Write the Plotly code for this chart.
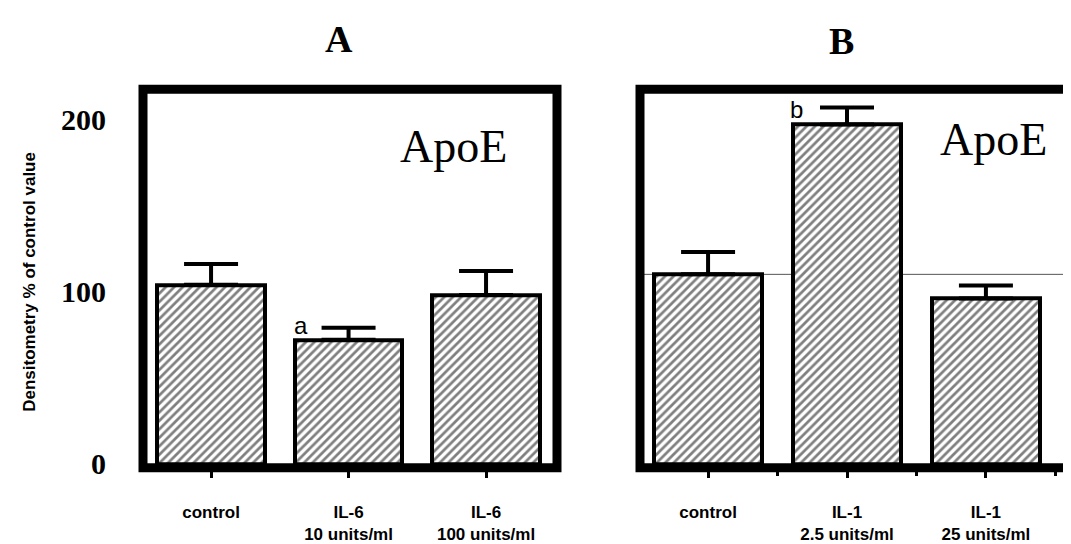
import plotly.graph_objects as go

W, H = 1071, 544

# ---- data ----
cats_a = ["control", "IL-6<br>10 units/ml", "IL-6<br>100 units/ml"]
vals_a = [104, 72, 98]
err_a = [12, 7, 14]

cats_b = ["control", "IL-1<br>2.5 units/ml", "IL-1<br>25 units/ml"]
vals_b = [110, 197, 96]
err_b = [13, 10, 7.5]

y_ticks = [0, 100, 200]
sig_a = "a"
sig_b = "b"

pos_a = list(range(len(cats_a)))
pos_b = list(range(len(cats_b)))

def px_x(p):
    return p / W

def px_y(p):
    return 1 - p / H

pattern = dict(shape="/", size=6, solidity=0.45, fgcolor="black", bgcolor="white", fillmode="overlay")

def bar(x, y, e, xa, ya):
    return go.Bar(
        x=x, y=y, xaxis=xa, yaxis=ya, width=0.78,
        marker=dict(color="white", line=dict(color="black", width=4), pattern=pattern),
        error_y=dict(type="data", array=e, arrayminus=[0] * len(e), symmetric=False,
                     color="black", thickness=4, width=27),
        showlegend=False, hoverinfo="skip",
    )

fig = go.Figure()
fig.add_trace(bar(pos_a, vals_a, err_a, "x", "y"))
fig.add_trace(bar(pos_b, vals_b, err_b, "x2", "y2"))

tickfont = dict(family="Liberation Sans, Arial", size=17, color="black", weight="bold")
ydom = [px_y(470), px_y(83)]
yrange = [-2.3, 217.6]

fig.update_layout(
    width=W, height=H, margin=dict(l=0, r=0, t=0, b=0),
    paper_bgcolor="white", plot_bgcolor="white",
    bargap=0,
    xaxis=dict(domain=[px_x(135), px_x(549)], range=[-0.495, 2.516],
               tickmode="array", tickvals=pos_a, ticktext=cats_a,
               ticks="outside", ticklen=9, tickwidth=3, tickcolor="black",
               ticklabelstandoff=20, tickfont=tickfont,
               showline=False, showgrid=False, zeroline=False, anchor="y"),
    yaxis=dict(domain=ydom, range=yrange, tickmode="array", tickvals=y_ticks,
               ticks="", ticklabelstandoff=36,
               tickfont=dict(family="Liberation Serif, Times New Roman", size=30, color="black", weight="bold"),
               showline=False, showgrid=False, zeroline=False, anchor="x"),
    xaxis2=dict(domain=[px_x(632), 1.0], range=[-0.49, 2.67],
                tickmode="array", tickvals=pos_b, ticktext=cats_b,
                ticks="outside", ticklen=9, tickwidth=3, tickcolor="black",
                minor=dict(tickvals=[0.5, 1.5, 2.5], ticks="outside", ticklen=7, tickwidth=3, tickcolor="black"),
                ticklabelstandoff=20, tickfont=tickfont,
                showline=False, showgrid=False, zeroline=False, anchor="y2"),
    yaxis2=dict(domain=ydom, range=yrange, showticklabels=False, ticks="",
                showline=False, showgrid=False, zeroline=False, anchor="x2"),
)

# thin reference line in panel B at control level
fig.add_shape(type="line", xref="x2 domain", yref="y2", x0=0, x1=1,
              y0=vals_b[0], y1=vals_b[0], line=dict(color="#555555", width=1), layer="below")

# thick frames
fig.add_shape(type="rect", xref="x domain", yref="y domain", x0=0, x1=1, y0=0, y1=1,
              line=dict(color="black", width=9), layer="above")
fig.add_shape(type="rect", xref="x2 domain", yref="y2 domain", x0=0, x1=1.2, y0=0, y1=1,
              line=dict(color="black", width=9), layer="above")

serif = "Liberation Serif, Times New Roman"
anns = [
    dict(text="A", x=px_x(331), y=px_y(32), font=dict(family=serif, size=38, color="black", weight="bold")),
    dict(text="B", x=px_x(833), y=px_y(34), font=dict(family=serif, size=38, color="black", weight="bold")),
    dict(text="ApoE", x=px_x(445), y=px_y(142), font=dict(family=serif, size=46, color="black")),
    dict(text="ApoE", x=px_x(985), y=px_y(134), font=dict(family=serif, size=46, color="black")),
    dict(text="Densitometry % of control value", x=px_x(22), y=px_y(280), textangle=-90,
         font=dict(family="Liberation Sans, Arial", size=17, color="black", weight="bold")),
]
for a in anns:
    fig.add_annotation(xref="paper", yref="paper", showarrow=False, xanchor="center", yanchor="middle", **a)

fig.add_annotation(xref="x", yref="y", x=0.655, y=vals_a[1] + err_a[1] + 1, text=sig_a, showarrow=False,
                   xanchor="center", yanchor="middle",
                   font=dict(family="Liberation Sans, Arial", size=24, color="black"))
fig.add_annotation(xref="x2", yref="y2", x=0.64, y=vals_b[1] + err_b[1] - 1, text=sig_b, showarrow=False,
                   xanchor="center", yanchor="middle",
                   font=dict(family="Liberation Sans, Arial", size=24, color="black"))

fig.write_html("out.html")
